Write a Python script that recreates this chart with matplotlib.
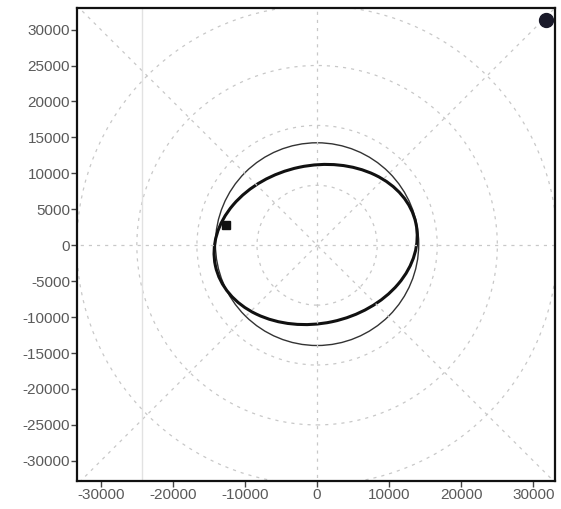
import numpy as np
import matplotlib
matplotlib.use("Agg")
import matplotlib.pyplot as plt
from matplotlib.patches import Circle, Ellipse

plt.rcParams["axes.unicode_minus"] = False

# axis ticks
ticks = [-30000, -20000, -10000, 0, 10000, 20000, 30000]
yticks = [-30000, -25000, -20000, -15000, -10000, -5000, 0, 5000, 10000, 15000, 20000, 25000, 30000]

# polar grid
grid_radii = [8333, 16667, 25000, 33333]
grid_angles = [0, 45, 90, 135]

# reference circle
ref_center = (0, 150)
ref_radius = 14100

# orbit (ellipse)
orbit_center = (-200, 100)
orbit_width = 2 * 14213
orbit_height = 2 * 10982
orbit_angle = 12

# markers
square_xy = (-12660, 2750)
dot_xy = (31730, 31400)
stray_x = -24300

fig = plt.figure(figsize=(5.61, 5.09), dpi=100)
ax = fig.add_axes([77 / 561, 28 / 509, 478 / 561, 473 / 509])

grid_kw = dict(color="#c8c8c8", lw=0.9, ls=(0, (2.5, 4)))
for r in grid_radii:
    ax.add_patch(Circle((0, 0), r, fill=False, **grid_kw))
for a in grid_angles:
    t = np.deg2rad(a)
    L = 50000
    ax.plot([-L * np.cos(t), L * np.cos(t)], [-L * np.sin(t), L * np.sin(t)], **grid_kw)

ax.axvline(stray_x, color="#e2e2e2", lw=1.0)

ax.add_patch(Circle(ref_center, ref_radius, fill=False, color="#333333", lw=1.0))
ax.add_patch(Ellipse(orbit_center, orbit_width, orbit_height, angle=orbit_angle,
                     fill=False, color="#111111", lw=2.2))

ax.plot(*square_xy, marker="s", ms=5.5, color="#111111")
ax.plot(*dot_xy, marker="o", ms=10, color="#1a1a2a")

ax.set_xlim(-33300, 33000)
ax.set_ylim(-32800, 33000)
ax.set_xticks(ticks)
ax.set_yticks(yticks)
ax.tick_params(direction="out", length=4, width=1, pad=1, labelsize=11,
               labelcolor="#5a5a5a", color="#444444")
for lab in ax.get_xticklabels() + ax.get_yticklabels():
    lab.set_family("Liberation Sans")
for s in ax.spines.values():
    s.set_linewidth(1.6)
    s.set_color("#111111")

fig.savefig("out.png", dpi=100)
